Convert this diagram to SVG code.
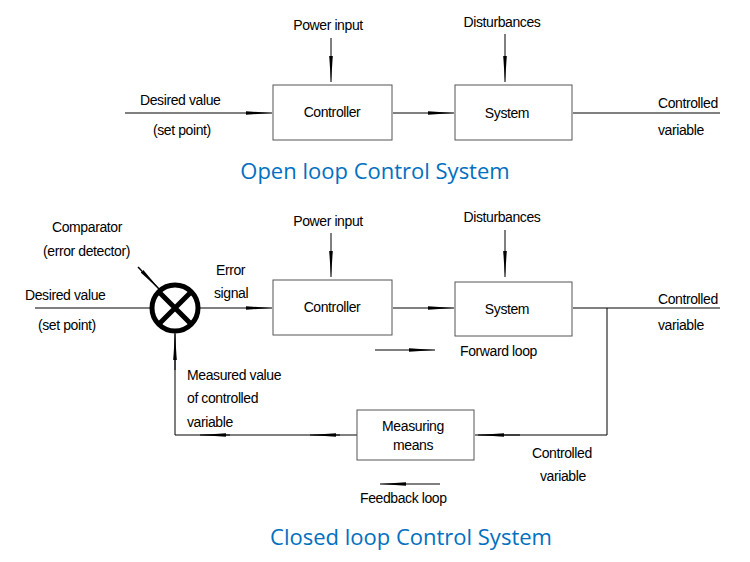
<svg xmlns="http://www.w3.org/2000/svg" width="750" height="562" viewBox="0 0 750 562">
<style>
text{font-family:"Liberation Sans",Arial,sans-serif;font-size:14px;fill:#000;letter-spacing:-0.4px}
.c{text-anchor:middle}
.t{font-family:"Open Sans","Noto Sans",sans-serif;font-size:22px;fill:#0070c0;text-anchor:middle;letter-spacing:0}
.l{stroke:#000;stroke-width:1;fill:none}
.b{fill:#fff;stroke:#555;stroke-width:1}
</style>
<defs>
<marker id="a" markerWidth="26" markerHeight="8" refX="26" refY="4" orient="auto" markerUnits="userSpaceOnUse"><path d="M0,2.2L26,4L0,5.8z" fill="#000"/></marker>
</defs>
<rect width="750" height="562" fill="#fff"/>
<g id="connectors">
<line class="l" x1="125" y1="113" x2="272" y2="113" marker-end="url(#a)"/>
<line class="l" x1="393" y1="113" x2="454" y2="113" marker-end="url(#a)"/>
<line class="l" x1="573" y1="113" x2="720" y2="113"/>
<line class="l" x1="331" y1="38" x2="331" y2="82" marker-end="url(#a)"/>
<line class="l" x1="505" y1="34" x2="505" y2="82" marker-end="url(#a)"/>
<line class="l" x1="35" y1="308" x2="152" y2="308"/>
<line class="l" x1="198" y1="308" x2="272" y2="308" marker-end="url(#a)"/>
<line class="l" x1="393" y1="308" x2="454" y2="308" marker-end="url(#a)"/>
<line class="l" x1="573" y1="308" x2="720" y2="308"/>
<line class="l" x1="331" y1="233" x2="331" y2="277" marker-end="url(#a)"/>
<line class="l" x1="505" y1="230" x2="505" y2="277" marker-end="url(#a)"/>
<polyline class="l" points="607,308 607,435 475,435"/>
<line class="l" x1="520" y1="435" x2="478" y2="435" marker-end="url(#a)"/>
<polyline class="l" points="357,435 175,435 175,333"/>
<line class="l" x1="340" y1="435" x2="310" y2="435" marker-end="url(#a)"/>
<line class="l" x1="230" y1="435" x2="200" y2="435" marker-end="url(#a)"/>
<line class="l" x1="175" y1="370" x2="175" y2="334" marker-end="url(#a)"/>
<line x1="138" y1="267" x2="160" y2="290" stroke="#000" stroke-width="1.5" marker-end="url(#a)"/>
<line class="l" x1="375" y1="350" x2="435" y2="350" marker-end="url(#a)"/>
<line class="l" x1="440" y1="484" x2="380" y2="484" marker-end="url(#a)"/>
</g>
<text x="328" y="30" class="c">Power input</text>
<text x="502" y="27" class="c">Disturbances</text>
<text x="140" y="105">Desired value</text>
<text x="153" y="135">(set point)</text>
<text x="658" y="108">Controlled</text>
<text x="658" y="135">variable</text>
<g id="openController"><rect class="b" x="273" y="85" width="119" height="55"/><text x="332" y="117" class="c">Controller</text></g>
<g id="openSystem"><rect class="b" x="455" y="85" width="117" height="55"/><text x="507" y="118" class="c">System</text></g>
<text x="375" y="179" class="t">Open loop Control System</text>
<text x="328" y="226" class="c">Power input</text>
<text x="502" y="222" class="c">Disturbances</text>
<text x="52" y="232">Comparator</text>
<text x="43" y="256">(error detector)</text>
<text x="216" y="275">Error</text>
<text x="214" y="298">signal</text>
<text x="25" y="300">Desired value</text>
<text x="38" y="330">(set point)</text>
<text x="658" y="304">Controlled</text>
<text x="658" y="330">variable</text>
<text x="460" y="356">Forward loop</text>
<text x="187" y="380">Measured value</text>
<text x="187" y="403">of controlled</text>
<text x="187" y="427">variable</text>
<text x="532" y="458">Controlled</text>
<text x="540" y="481">variable</text>
<text x="360" y="503">Feedback loop</text>
<g id="comparator"><circle cx="175" cy="308" r="23" fill="#fff" stroke="#000" stroke-width="5"/><path d="M159,292L191,324M191,292L159,324" stroke="#000" stroke-width="5"/></g>
<g id="controller"><rect class="b" x="273" y="280" width="119" height="55"/><text x="332" y="312" class="c">Controller</text></g>
<g id="system"><rect class="b" x="455" y="282" width="117" height="54"/><text x="507" y="314" class="c">System</text></g>
<g id="measuring"><rect class="b" x="357" y="410" width="117" height="50"/><text x="413" y="431" class="c">Measuring</text><text x="413" y="450" class="c">means</text></g>
<text x="411" y="545" class="t">Closed loop Control System</text>
</svg>
